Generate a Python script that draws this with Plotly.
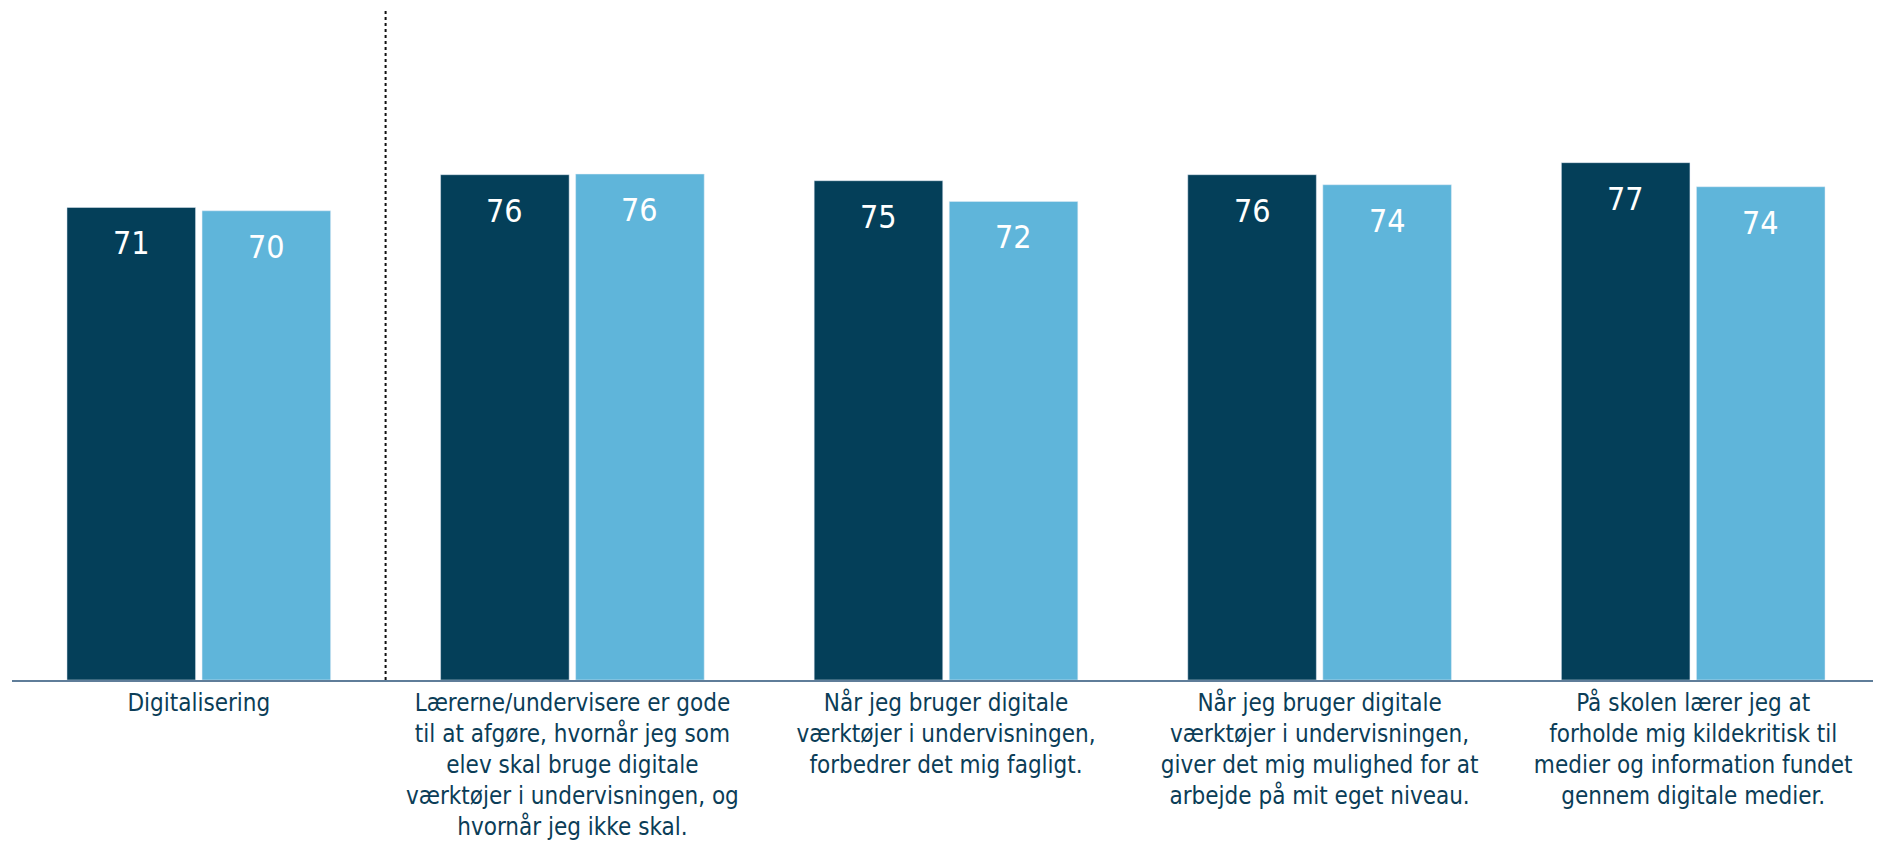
import plotly.graph_objects as go

categories = [
    "Digitalisering",
    "Lærerne/undervisere er gode<br>til at afgøre, hvornår jeg som<br>elev skal bruge digitale<br>værktøjer i undervisningen, og<br>hvornår jeg ikke skal.",
    "Når jeg bruger digitale<br>værktøjer i undervisningen,<br>forbedrer det mig fagligt.",
    "Når jeg bruger digitale<br>værktøjer i undervisningen,<br>giver det mig mulighed for at<br>arbejde på mit eget niveau.",
    "På skolen lærer jeg at<br>forholde mig kildekritisk til<br>medier og information fundet<br>gennem digitale medier.",
]
series_a = [70.7, 75.6, 74.7, 75.6, 77.4]
series_b = [70.2, 75.7, 71.6, 74.1, 73.8]
series_a_name = "Serie 1"
series_b_name = "Serie 2"

DARK = "#043f59"
LIGHT = "#5fb5da"
TEXT = "#0b3d57"
FONT = "DejaVu Sans Condensed, Liberation Sans, Arial, sans-serif"

W, H = 1881, 857
ML, MR, MT, MB = 4, 9, 2, 185
BARGAP = 0.277
BARGROUPGAP = 0.048

fig = go.Figure()
fig.add_trace(go.Bar(x=categories, y=series_a, name=series_a_name, marker_color=DARK))
fig.add_trace(go.Bar(x=categories, y=series_b, name=series_b_name, marker_color=LIGHT))

cat_w = (W - ML - MR) / len(categories)
off = cat_w * (1 - BARGAP) / 4

for vals, sign in ((series_a, -1), (series_b, 1)):
    for c, v in zip(categories, vals):
        fig.add_annotation(
            x=c, y=v, xref="x", yref="y", text=f"{v:.0f}", showarrow=False,
            xshift=sign * off, yshift=-36, yanchor="middle",
            font=dict(family=FONT, size=32, color="white"),
        )

fig.add_shape(type="line", xref="x", yref="paper", x0=0.5, x1=0.5, y0=0, y1=1,
              line=dict(color="#111111", width=2, dash="dot"))

fig.update_layout(
    width=W, height=H,
    margin=dict(l=ML, r=MR, t=MT, b=MB),
    paper_bgcolor="white", plot_bgcolor="white",
    barmode="group", bargap=BARGAP, bargroupgap=BARGROUPGAP,
    showlegend=False,
    font=dict(family=FONT, size=24, color=TEXT),
)
fig.update_xaxes(showline=True, linecolor="#5f7d99", linewidth=1.5, ticks="",
                 showgrid=False, tickfont=dict(family=FONT, size=24, color=TEXT),
                 tickangle=0, automargin=False)
fig.update_yaxes(range=[0, 100.24], visible=False, showgrid=False, fixedrange=True)

fig.write_html("out.html")
